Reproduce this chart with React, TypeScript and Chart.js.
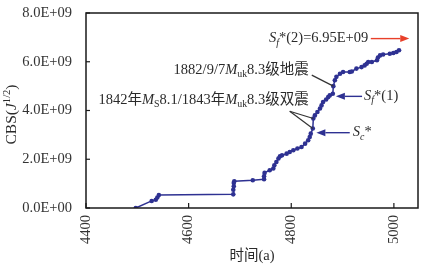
import React, { useEffect, useRef } from "react";
import { Chart, registerables } from "chart.js";
Chart.register(...registerables);

// ---- data ----
const years = [
  4497, 4528, 4536, 4539, 4542, 4687, 4687, 4688, 4688, 4689, 4725, 4747, 4747, 4748,
  4758, 4765, 4767, 4771, 4775, 4778, 4782, 4791, 4797, 4804, 4812, 4820, 4827, 4833,
  4836, 4838, 4842, 4843, 4846, 4851, 4856, 4859, 4862, 4868, 4872, 4875, 4881, 4882,
  4885, 4888, 4895, 4901, 4914, 4918, 4927, 4937, 4943, 4947, 4950, 4957, 4967, 4969,
  4973, 4979, 4992, 4999, 5005, 5010,
];
const cbsE9 = [
  0.0, 0.29, 0.34, 0.43, 0.53, 0.56, 0.75, 0.89, 1.03, 1.1, 1.14, 1.18, 1.3, 1.44,
  1.55, 1.62, 1.75, 1.89, 2.03, 2.12, 2.16, 2.23, 2.3, 2.37, 2.44, 2.5, 2.64, 2.78,
  2.91, 3.05, 3.26, 3.67, 3.8, 3.94, 4.08, 4.21, 4.35, 4.45, 4.55, 4.62, 4.69, 5.0,
  5.24, 5.38, 5.51, 5.58, 5.58, 5.6, 5.72, 5.78, 5.85, 5.92, 5.99, 5.99, 6.06, 6.17,
  6.26, 6.3, 6.33, 6.36, 6.4, 6.47,
];
const xTickValues = [4400, 4600, 4800, 5000];
const yTickValues = [0, 2e9, 4e9, 6e9, 8e9];
const sf2Value = 6.95e9;
const sf1Value = 4.58e9;
const scValue = 3.09e9;
const quake1842 = { x: 4842, y: 3.26e9 };
const quake1843 = { x: 4843, y: 3.67e9 };
const quake1882 = { x: 4882, y: 5.0e9 };

const FONT = "'Liberation Serif', 'Noto Sans CJK SC', serif";
const NAVY = "#2E3192";
const TXT = "#2a2a2a";
const FS = 14.5;

type Seg = { t: string; it?: boolean; sub?: boolean; sup?: boolean };

function segFont(s: Seg, size: number) {
  const sz = s.sub || s.sup ? size * 0.68 : size;
  return `${s.it ? "italic " : ""}${sz}px ${FONT}`;
}
function richWidth(ctx: CanvasRenderingContext2D, segs: Seg[], size: number) {
  let w = 0;
  for (const s of segs) {
    ctx.font = segFont(s, size);
    w += ctx.measureText(s.t).width;
  }
  return w;
}
function drawRich(
  ctx: CanvasRenderingContext2D,
  segs: Seg[],
  x: number,
  y: number,
  align: "left" | "right" | "center",
  size: number,
  color: string
) {
  const w = richWidth(ctx, segs, size);
  let cx = align === "left" ? x : align === "right" ? x - w : x - w / 2;
  ctx.save();
  ctx.fillStyle = color;
  ctx.textBaseline = "middle";
  ctx.textAlign = "left";
  for (const s of segs) {
    ctx.font = segFont(s, size);
    const dy = s.sub ? size * 0.3 : s.sup ? -size * 0.32 : 0;
    ctx.fillText(s.t, cx, y + dy);
    cx += ctx.measureText(s.t).width;
  }
  ctx.restore();
}
function arrow(
  ctx: CanvasRenderingContext2D,
  x1: number,
  y1: number,
  x2: number,
  y2: number,
  color: string
) {
  const ang = Math.atan2(y2 - y1, x2 - x1);
  const hl = 9,
    hw = 3.5;
  ctx.save();
  ctx.strokeStyle = color;
  ctx.fillStyle = color;
  ctx.lineWidth = 1.4;
  ctx.beginPath();
  ctx.moveTo(x1, y1);
  ctx.lineTo(x2 - Math.cos(ang) * hl, y2 - Math.sin(ang) * hl);
  ctx.stroke();
  ctx.beginPath();
  ctx.moveTo(x2, y2);
  ctx.lineTo(
    x2 - Math.cos(ang) * hl - Math.sin(ang) * hw,
    y2 - Math.sin(ang) * hl + Math.cos(ang) * hw
  );
  ctx.lineTo(
    x2 - Math.cos(ang) * hl + Math.sin(ang) * hw,
    y2 - Math.sin(ang) * hl - Math.cos(ang) * hw
  );
  ctx.closePath();
  ctx.fill();
  ctx.restore();
}
function line(ctx: CanvasRenderingContext2D, x1: number, y1: number, x2: number, y2: number, color: string, w = 1) {
  ctx.save();
  ctx.strokeStyle = color;
  ctx.lineWidth = w;
  ctx.beginPath();
  ctx.moveTo(x1, y1);
  ctx.lineTo(x2, y2);
  ctx.stroke();
  ctx.restore();
}

function fmtE(v: number) {
  if (v === 0) return "0.0E+00";
  const e = Math.floor(Math.log10(v) + 1e-9);
  const m = v / Math.pow(10, e);
  return `${m.toFixed(1)}E+${String(e).padStart(2, "0")}`;
}

const decorPlugin = {
  id: "decor",
  afterDatasetsDraw(chart: any) {
    const ctx: CanvasRenderingContext2D = chart.ctx;
    const xs = chart.scales.x;
    const ys = chart.scales.y;
    const a = chart.chartArea;
    const X = (v: number) => xs.getPixelForValue(v);
    const Y = (v: number) => ys.getPixelForValue(v);

    // frame
    ctx.save();
    ctx.strokeStyle = "#1a1a1a";
    ctx.lineWidth = 1.5;
    ctx.strokeRect(a.left, a.top, a.right - a.left, a.bottom - a.top);
    ctx.restore();
    // inward ticks
    for (const v of yTickValues) line(ctx, a.left, Y(v), a.left + 4, Y(v), "#1a1a1a", 1.2);
    for (const v of xTickValues) line(ctx, X(v), a.bottom, X(v), a.bottom - 5, "#1a1a1a", 1.2);

    // annotations
    // Sf*(2)
    arrow(ctx, X(4955), Y(sf2Value), X(5030), Y(sf2Value), "#E8402A");
    drawRich(
      ctx,
      [{ t: "S", it: true }, { t: "f", it: true, sub: true }, { t: "*" }, { t: "(2)=6.95E+09" }],
      X(4950),
      Y(sf2Value),
      "right",
      FS,
      TXT
    );
    // 1882
    drawRich(
      ctx,
      [{ t: "1882/9/7" }, { t: "M", it: true }, { t: "uk", sub: true }, { t: "8.3级地震" }],
      X(4834),
      Y(5.66e9),
      "right",
      FS,
      TXT
    );
    line(ctx, X(4840), Y(5.45e9), X(quake1882.x), Y(quake1882.y), "#333", 1.2);
    // 1842/1843
    drawRich(
      ctx,
      [
        { t: "1842年" },
        { t: "M", it: true },
        { t: "S", sub: true },
        { t: "8.1/1843年" },
        { t: "M", it: true },
        { t: "uk", sub: true },
        { t: "8.3级双震" },
      ],
      X(4834),
      Y(4.43e9),
      "right",
      FS,
      TXT
    );
    line(ctx, X(4797), Y(3.97e9), X(quake1843.x), Y(quake1843.y), "#333", 1.2);
    line(ctx, X(4797), Y(3.97e9), X(quake1842.x), Y(quake1842.y), "#333", 1.2);
    // Sf*(1)
    arrow(ctx, X(4938), Y(sf1Value), X(4887), Y(sf1Value), NAVY);
    drawRich(
      ctx,
      [{ t: "S", it: true }, { t: "f", it: true, sub: true }, { t: "*" }, { t: "(1)" }],
      X(4942),
      Y(sf1Value),
      "left",
      FS,
      TXT
    );
    // Sc*
    arrow(ctx, X(4914), Y(scValue), X(4849), Y(scValue), NAVY);
    drawRich(
      ctx,
      [{ t: "S", it: true }, { t: "c", it: true, sub: true }, { t: "*" }],
      X(4920),
      Y(scValue),
      "left",
      FS,
      TXT
    );

    // axis titles
    drawRich(ctx, [{ t: "时间(a)" }], (a.left + a.right) / 2, a.bottom + 48, "center", FS, TXT);
    ctx.save();
    ctx.translate(12, (a.top + a.bottom) / 2 + 4);
    ctx.rotate(-Math.PI / 2);
    drawRich(
      ctx,
      [{ t: "CBS(" }, { t: "J", it: true }, { t: "1/2", sup: true }, { t: ")" }],
      0,
      0,
      "center",
      15.5,
      TXT
    );
    ctx.restore();
  },
};

export default function App() {
  const ref = useRef<HTMLCanvasElement>(null);
  useEffect(() => {
    document.body.style.margin = "0";
    const canvas = ref.current!;
    const chart = new Chart(canvas, {
      type: "line",
      data: {
        datasets: [
          {
            data: years.map((x, i) => ({ x, y: cbsE9[i] * 1e9 })),
            borderColor: NAVY,
            backgroundColor: NAVY,
            borderWidth: 1.5,
            pointRadius: 2.3,
            pointBorderWidth: 0,
            tension: 0,
          },
        ],
      },
      options: {
        animation: false,
        responsive: false,
        maintainAspectRatio: false,
        layout: { padding: { top: 13, right: 10, left: 0, bottom: 0 } },
        plugins: { legend: { display: false }, tooltip: { enabled: false } },
        scales: {
          x: {
            type: "linear",
            min: 4400,
            max: 5047,
            afterBuildTicks: (s: any) => {
              s.ticks = xTickValues.map((value) => ({ value }));
            },
            afterFit: (s: any) => {
              s.height = 65;
              s.paddingLeft = 0;
              s.paddingRight = 0;
            },
            ticks: {
              maxRotation: 90,
              minRotation: 90,
              padding: 7,
              color: "#333",
              font: { family: FONT, size: FS },
              callback: (v: any) => String(v),
            },
            grid: { display: false, drawTicks: false },
            border: { display: false },
          },
          y: {
            type: "linear",
            min: 0,
            max: 8e9,
            afterBuildTicks: (s: any) => {
              s.ticks = yTickValues.map((value) => ({ value }));
            },
            afterFit: (s: any) => {
              s.width = 86;
              s.paddingTop = 0;
              s.paddingBottom = 0;
            },
            ticks: {
              padding: 14,
              color: "#333",
              font: { family: FONT, size: FS },
              callback: (v: any) => fmtE(Number(v)),
            },
            grid: { display: false, drawTicks: false },
            border: { display: false },
          },
        },
      },
      plugins: [decorPlugin],
    } as any);
    return () => chart.destroy();
  }, []);
  return (
    <div style={{ width: 428, height: 273 }}>
      <canvas ref={ref} width={428} height={273} style={{ display: "block" }} />
    </div>
  );
}
